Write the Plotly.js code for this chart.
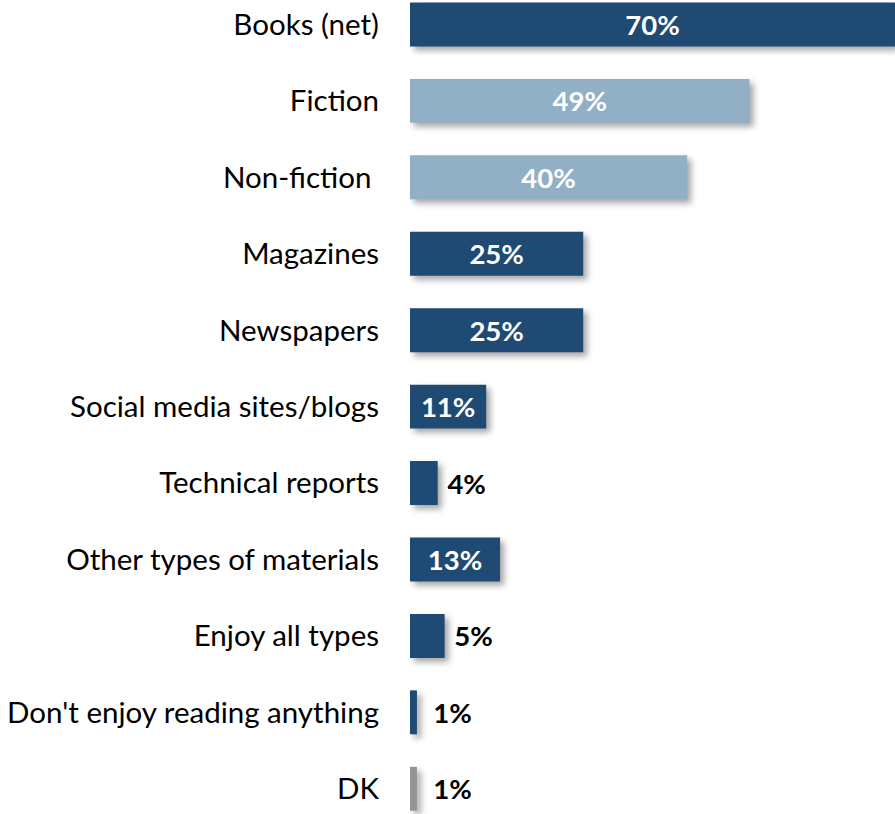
<!DOCTYPE html>
<html>
<head>
<meta charset="utf-8">
<script src="https://cdn.plot.ly/plotly-3.0.1.min.js"></script>
<style>
html,body{margin:0;padding:0;background:#fff;}
#chart{width:895px;height:814px;}
#chart .trace.bars .point path{filter:drop-shadow(4px 4px 3px rgba(0,0,0,0.35));}
</style>
</head>
<body>
<div id="chart"></div>
<script>
const categories = ["Books (net)", "Fiction", "Non-fiction ", "Magazines", "Newspapers", "Social media sites/blogs", "Technical reports", "Other types of materials", "Enjoy all types", "Don't enjoy reading anything", "DK"];
const values = [70, 49, 40, 25, 25, 11, 4, 13, 5, 1, 1];
const valueLabels = ["70%", "49%", "40%", "25%", "25%", "11%", "4%", "13%", "5%", "1%", "1%"];
const barGroups = ["dark", "light", "light", "dark", "dark", "dark", "dark", "dark", "dark", "dark", "grey"];
const labelInside = [true, true, true, true, true, true, false, true, false, false, false];

const palette = {dark: "#1F4A73", light: "#91AFC5", grey: "#939393"};
const colors = barGroups.map(g => palette[g]);
const textPos = labelInside.map(b => b ? "inside" : "outside");
const textColors = labelInside.map(b => b ? "#ffffff" : "#000000");
const texts = valueLabels.map((t, i) => (labelInside[i] ? t : (values[i] < 3 ? "\u00a0\u00a0" + t : "\u00a0" + t)));

const trace = {
  type: "bar",
  orientation: "h",
  y: categories,
  x: values,
  width: 0.575,
  marker: {color: colors, line: {width: 0}},
  text: texts,
  textposition: textPos,
  insidetextanchor: "middle",
  textangle: 0,
  textfont: {family: "Lato, 'Open Sans', sans-serif", size: 27.5, color: textColors, weight: 700},
  cliponaxis: false,
  hoverinfo: "none"
};

const layout = {
  width: 895,
  height: 814,
  margin: {l: 410, r: 0, t: 0, b: 0, pad: 0},
  paper_bgcolor: "#ffffff",
  plot_bgcolor: "#ffffff",
  showlegend: false,
  font: {family: "Lato, 'Open Sans', sans-serif", size: 29.5, color: "#000000"},
  xaxis: {range: [0, 70], showgrid: false, zeroline: false, showticklabels: false, showline: false, ticks: "", fixedrange: true},
  yaxis: {type: "category", range: [10.33, -0.32], showgrid: false, zeroline: false, showline: false, ticks: "", ticklabelstandoff: 30, tickfont: {size: 29.5, color: "#000000"}, fixedrange: true},
  uniformtext: {mode: false}
};

Plotly.newPlot("chart", [trace], layout, {displayModeBar: false, staticPlot: true});
</script>
</body>
</html>
